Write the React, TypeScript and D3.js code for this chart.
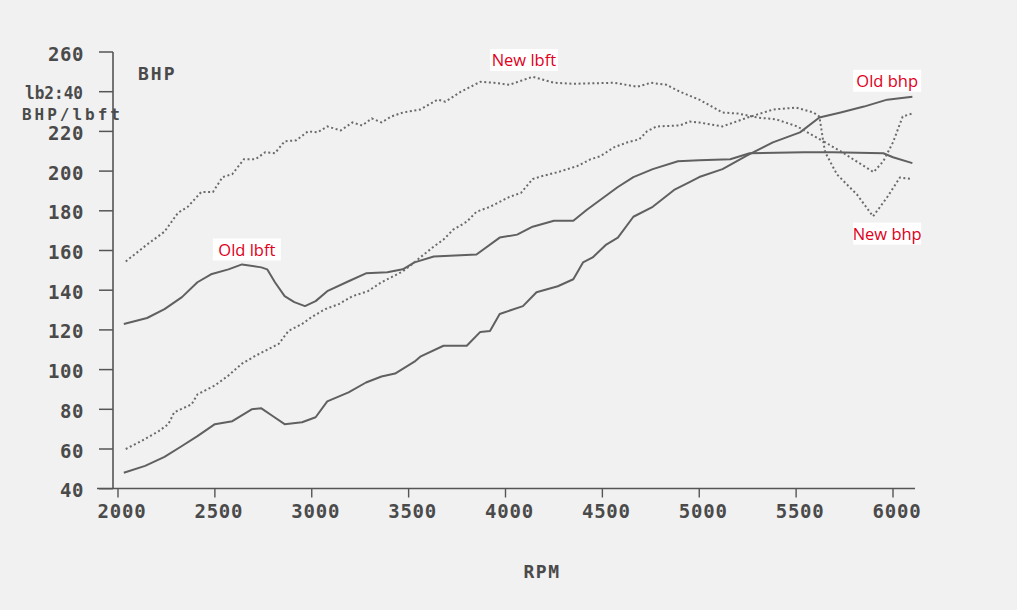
import React from "react";
import * as d3 from "d3";

// RPM tick values and torque/power tick values
const rpmTicks = [2000, 2500, 3000, 3500, 4000, 4500, 5000, 5500, 6000];
const valueTicks = [40, 60, 80, 100, 120, 140, 160, 180, 200, 220, 240, 260];

// [rpm, value] read from the dyno sheet
const oldLbft: [number, number][] = [
  [2030, 123], [2150, 126], [2240, 130.5], [2330, 136.5], [2410, 144], [2480, 148],
  [2570, 150.5], [2640, 153], [2740, 151.5], [2770, 150.5], [2810, 144], [2860, 137],
  [2910, 134], [2965, 132], [3020, 134.5], [3080, 139.5], [3190, 144.5], [3280, 148.5],
  [3390, 149], [3470, 150.5], [3530, 154], [3630, 157], [3850, 158], [3970, 166.5],
  [4060, 168], [4140, 172], [4250, 175], [4350, 175], [4420, 180.5], [4580, 192],
  [4660, 197], [4760, 201], [4890, 205], [5000, 205.5], [5160, 206], [5260, 209],
  [5540, 209.5], [5690, 209.5], [5950, 209], [6000, 207], [6100, 204],
];

const oldBhp: [number, number][] = [
  [2030, 48], [2140, 51.5], [2240, 56], [2330, 61.5], [2410, 66.5], [2500, 72.5],
  [2590, 74], [2690, 80], [2740, 80.5], [2800, 76.5], [2860, 72.5], [2950, 73.5],
  [3020, 76], [3080, 84], [3190, 88.5], [3280, 93.5], [3360, 96.5], [3430, 98],
  [3530, 104], [3560, 106.5], [3680, 112], [3800, 112], [3870, 119], [3920, 119.5],
  [3970, 128], [4090, 132], [4160, 139], [4270, 142], [4350, 145.5], [4400, 154],
  [4450, 156.5], [4520, 163], [4580, 166.5], [4660, 177], [4760, 182], [4870, 190.5],
  [4950, 194.5], [5000, 197], [5120, 201], [5250, 208], [5380, 214.5], [5520, 219.5],
  [5620, 227], [5730, 229.5], [5850, 232.5], [5970, 236], [6100, 237.5],
];

const newLbft: [number, number][] = [
  [2040, 154.5], [2150, 163], [2240, 169.5], [2310, 179], [2360, 182], [2430, 189.5],
  [2490, 189.5], [2540, 197], [2590, 198.5], [2650, 206], [2710, 206], [2760, 209.5],
  [2810, 209], [2860, 215], [2920, 215.5], [2980, 220], [3030, 219.5], [3080, 222.5],
  [3150, 220.5], [3210, 224.5], [3260, 223], [3310, 226.5], [3360, 224.5], [3410, 227.5],
  [3470, 229.5], [3560, 231], [3650, 236], [3690, 235], [3770, 240], [3870, 245],
  [3940, 244.5], [4020, 243.5], [4140, 247.5], [4250, 244.5], [4350, 244], [4560, 244.5],
  [4680, 242.5], [4750, 244.5], [4830, 243.5], [4900, 240], [5000, 236], [5120, 229.5],
  [5200, 229], [5300, 227], [5400, 226], [5505, 222.5], [5623, 216], [5640, 214.8],
  [5650, 209.5], [5711, 198.3], [5814, 188.2], [5897, 177.2], [5969, 186.7],
  [6036, 196.8], [6100, 196],
];

const newBhp: [number, number][] = [
  [2040, 60], [2120, 64], [2210, 69], [2260, 72.5], [2290, 78.5], [2380, 82.5],
  [2410, 87.5], [2500, 92], [2570, 97], [2640, 103], [2710, 107], [2800, 111.5],
  [2830, 113], [2880, 119.5], [2950, 123], [3000, 126.5], [3070, 130.5], [3140, 133],
  [3210, 137], [3290, 139.5], [3360, 144], [3410, 146.5], [3470, 149.5], [3530, 154],
  [3560, 156.5], [3630, 162], [3680, 165.5], [3730, 170.5], [3800, 174.5], [3850, 179.5],
  [3920, 182], [4020, 187], [4080, 189], [4140, 196], [4190, 197.5], [4270, 199.5],
  [4370, 202.5], [4440, 206], [4490, 207.5], [4560, 212], [4630, 214.5], [4690, 216],
  [4730, 220], [4780, 222.5], [4900, 223], [4950, 225], [5000, 224.5], [5120, 222.5],
  [5250, 227], [5380, 231], [5500, 232], [5590, 229.5], [5620, 227.5], [5640, 215],
  [5730, 210], [5810, 205], [5900, 199.5], [5950, 205], [6000, 214.5], [6050, 227.5],
  [6100, 229],
];

const solidSeries = [oldLbft, oldBhp];
const dottedSeries = [newLbft, newBhp];

const annotations = [
  { text: "New lbft", rpm: 4095, value: 256 },
  { text: "Old lbft", rpm: 2665, value: 160.5 },
  { text: "Old bhp", rpm: 5970, value: 245.5 },
  { text: "New bhp", rpm: 5970, value: 168.5 },
];

const W = 1017;
const H = 610;

export default function App() {
  const x = d3.scaleLinear().domain([2000, 6000]).range([118, 893]);
  const y = d3.scaleLinear().domain([40, 260]).range([488.7, 52]);
  const line = d3
    .line<[number, number]>()
    .x((d) => x(d[0]))
    .y((d) => y(d[1]))
    .curve(d3.curveLinear);

  const axisX = 113;
  const axisY = 488.5;
  const tickFont = "'DejaVu Sans Mono', monospace";
  const ink = "#4a4a4a";

  return (
    <svg
      width={W}
      height={H}
      style={{ position: "absolute", left: 0, top: 0, background: "#f1f1f1" }}
    >
      <rect x={0} y={0} width={W} height={H} fill="#f1f1f1" />

      {/* axes */}
      <line x1={axisX} x2={axisX} y1={y(260)} y2={axisY} stroke="#555" strokeWidth={1.6} />
      <line x1={97} x2={915} y1={axisY} y2={axisY} stroke="#555" strokeWidth={1.6} />

      {valueTicks.map((v) => (
        <g key={"yt" + v}>
          <line x1={99} x2={axisX} y1={y(v)} y2={y(v)} stroke="#555" strokeWidth={1.5} />
          {v === 240 ? (
            <text
              x={25}
              y={y(v) + 7}
              fontFamily={tickFont}
              fontWeight="bold"
              fontSize={17}
              textLength={58}
              lengthAdjust="spacingAndGlyphs"
              fill={ink}
            >
              lb2:40
            </text>
          ) : (
            <text
              x={84}
              y={y(v) + 8.5}
              textAnchor="end"
              fontFamily={tickFont}
              fontWeight="bold"
              fontSize={19}
              letterSpacing={0.6}
              fill={ink}
            >
              {String(v)}
            </text>
          )}
        </g>
      ))}

      {rpmTicks.map((r) => (
        <g key={"xt" + r}>
          <line x1={x(r)} x2={x(r)} y1={axisY} y2={axisY + 9} stroke="#555" strokeWidth={1.4} />
          <text
            x={x(r) + 4}
            y={518}
            textAnchor="middle"
            fontFamily={tickFont}
            fontWeight="bold"
            fontSize={19}
            letterSpacing={0.8}
            fill={ink}
          >
            {r}
          </text>
        </g>
      ))}

      <text x={138} y={80} fontFamily={tickFont} fontWeight="bold" fontSize={18} letterSpacing={2} fill={ink}>
        BHP
      </text>
      <text
        x={22}
        y={120}
        fontFamily={tickFont}
        fontWeight="bold"
        fontSize={16}
        textLength={98}
        lengthAdjust="spacing"
        fill={ink}
      >
        BHP/lbft
      </text>
      <text
        x={542}
        y={578}
        textAnchor="middle"
        fontFamily={tickFont}
        fontWeight="bold"
        fontSize={18}
        letterSpacing={1.5}
        fill={ink}
      >
        RPM
      </text>

      {solidSeries.map((s, i) => (
        <path key={"s" + i} d={line(s) || ""} fill="none" stroke="#606060" strokeWidth={2} strokeLinejoin="round" />
      ))}
      {dottedSeries.map((s, i) => (
        <path
          key={"d" + i}
          d={line(s) || ""}
          fill="none"
          stroke="#6a6a6a"
          strokeWidth={2}
          strokeDasharray="2 2.6"
        />
      ))}

      {annotations.map((a) => {
        const cx = x(a.rpm);
        const cy = y(a.value);
        return (
          <g key={a.text}>
            <rect x={cx - 34} y={cy - 11} width={68} height={22} fill="#ffffff" />
            <text
              x={cx}
              y={cy + 6}
              textAnchor="middle"
              fontFamily="'Open Sans', sans-serif"
              fontSize={16.5}
              fill="#e0001b"
            >
              {a.text}
            </text>
          </g>
        );
      })}
    </svg>
  );
}
